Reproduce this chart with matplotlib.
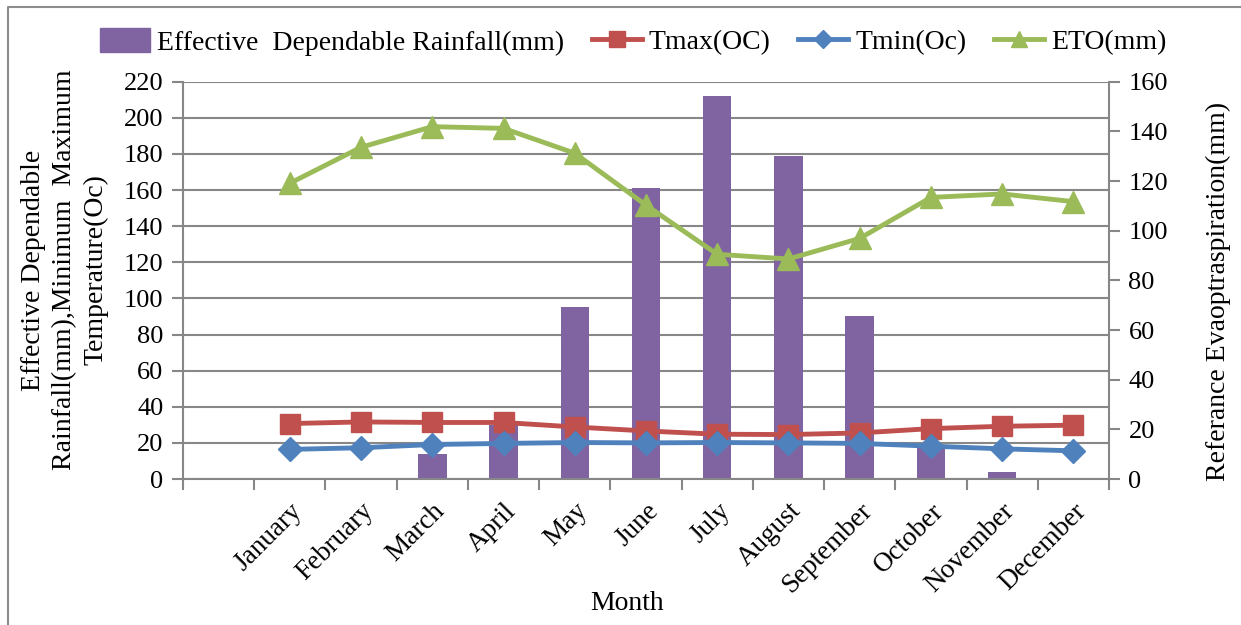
import matplotlib
matplotlib.use('Agg')
import matplotlib.pyplot as plt
from matplotlib.lines import Line2D

# first category on the axis is empty in the original sheet
months = ['', 'January', 'February', 'March', 'April', 'May', 'June', 'July',
          'August', 'September', 'October', 'November', 'December']
rainfall = [0, 0, 0, 14, 30, 95, 161, 212, 179, 90, 19, 4, 0]
tmax = [None, 30.7, 31.6, 31.3, 31.3, 28.8, 26.6, 24.8, 24.6, 25.5, 27.9, 29.2, 29.8]
tmin = [None, 16.4, 17.3, 19.1, 19.7, 20.2, 20.0, 20.2, 20.0, 19.7, 18.2, 16.7, 15.6]
eto = [None, 119.1, 133.6, 141.9, 141.2, 131.2, 110.3, 90.5, 88.6, 96.9, 113.4, 114.8, 111.7]

C_BAR = '#8064A2'
C_TMAX = '#C0504D'
C_TMIN = '#4F81BD'
C_ETO = '#9BBB59'
GRID = '#878787'

plt.rcParams['font.family'] = ['Liberation Serif', 'DejaVu Serif']
plt.rcParams['font.size'] = 20

fig = plt.figure(figsize=(12.41, 6.25), dpi=100)
ax = fig.add_axes([183 / 1241, 1 - 479 / 625, (1109 - 183) / 1241, (479 - 81.7) / 625])

x = list(range(len(months)))
ax.bar(x, rainfall, width=0.4, color=C_BAR, zorder=2)

xs = x[1:]
ax.plot(xs, tmax[1:], color=C_TMAX, lw=3.5, marker='s', ms=14, zorder=3)
ax.plot(xs, tmin[1:], color=C_TMIN, lw=3.5, marker='D', ms=12, zorder=3)

ax.set_xlim(-0.5, len(months) - 0.5)
ax.set_ylim(0, 220)
ax.set_yticks(range(0, 221, 20))
ax.set_xticks([i - 0.5 for i in range(len(months) + 1)], minor=False)
ax.set_xticklabels([])
ax.set_xticks(x, minor=True)
ax.set_xticklabels(months, minor=True, rotation=45, ha='right', va='top',
                   rotation_mode='anchor', fontsize=19.5)
ax.tick_params(axis='x', which='minor', length=0, pad=14)
ax.tick_params(axis='x', which='major', length=8, color=GRID, width=1.5)
ax.tick_params(axis='y', length=8, color=GRID, width=1.5, pad=6, labelsize=19)
ax.grid(axis='y', color=GRID, lw=1.5, zorder=0)
ax.set_axisbelow(True)
for s in ['top', 'right']:
    ax.spines[s].set_visible(False)
for s in ['left', 'bottom']:
    ax.spines[s].set_color(GRID)
    ax.spines[s].set_linewidth(1.5)

ax2 = ax.twinx()
ax2.plot(xs, eto[1:], color=C_ETO, lw=3.5, marker='^', ms=16, zorder=4)
ax2.set_ylim(0, 160)
ax2.set_yticks(range(0, 161, 20))
ax2.tick_params(axis='y', length=8, color=GRID, width=1.5, pad=6, labelsize=19)
for s in ['top', 'left', 'bottom']:
    ax2.spines[s].set_visible(False)
ax2.spines['right'].set_color(GRID)
ax2.spines['right'].set_linewidth(1.5)

fig.text(627 / 1241, 1 - 604 / 625, 'Month', ha='center', va='center')
fig.text(65 / 1241, 1 - 270 / 625,
         'Effective Dependable\nRainfall(mm),Minimum  Maximum\nTemperature(Oc)',
         rotation=90, ha='center', va='center', linespacing=1.33)
fig.text(1218 / 1241, 1 - 291 / 625, 'Referance Evaoptraspiration(mm)',
         rotation=90, ha='center', va='center')

handles = [
    plt.Rectangle((0, 0), 1, 1, color=C_BAR),
    Line2D([], [], color=C_TMAX, lw=3.5, marker='s', ms=11),
    Line2D([], [], color=C_TMIN, lw=3.5, marker='D', ms=9),
    Line2D([], [], color=C_ETO, lw=3.5, marker='^', ms=12),
]
labels = ['Effective  Dependable Rainfall(mm)', 'Tmax(OC)', 'Tmin(Oc)', 'ETO(mm)']
fig.legend(handles, labels, loc='center', bbox_to_anchor=(633 / 1241, 1 - 42 / 625),
           ncol=4, frameon=False, handlelength=1.8, handleheight=0.9,
           handletextpad=0.25, columnspacing=1.0, borderaxespad=0)

# outer frame (left and top edges only visible)
fig.add_artist(Line2D([8 / 1241, 8 / 1241, 1], [0, 1 - 7 / 625, 1 - 7 / 625],
                      color='#8c8c8c', lw=1.5, transform=fig.transFigure))

fig.savefig('out.png', dpi=100)
